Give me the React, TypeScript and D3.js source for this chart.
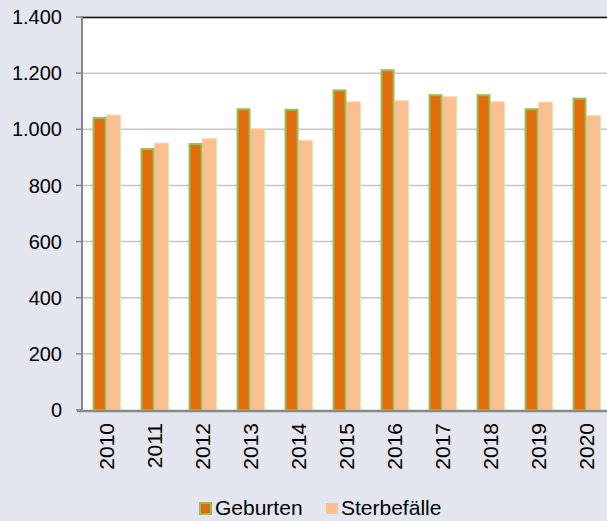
import React, { useRef, useEffect } from "react"
import * as d3 from "d3"

const years = ["2010", "2011", "2012", "2013", "2014", "2015", "2016", "2017", "2018", "2019", "2020"]
const geburten = [1044, 933, 951, 1075, 1073, 1142, 1214, 1125, 1125, 1075, 1113]
const sterbefaelle = [1051, 951, 967, 1002, 961, 1098, 1102, 1116, 1098, 1097, 1049]
const seriesNames = ["Geburten", "Sterbefälle"]
const yTicks = [0, 200, 400, 600, 800, 1000, 1200, 1400]

const W = 607,
  H = 521
const font = "'Liberation Sans', Arial, sans-serif"

function App() {
  const ref = useRef<SVGSVGElement>(null)

  useEffect(() => {
    const svg = d3.select(ref.current)
    svg.selectAll("*").remove()

    const margin = { top: 17, left: 82, bottom: 410 }

    svg.append("rect").attr("width", W).attr("height", H).attr("fill", "#e3e6ee")

    const x0 = d3
      .scaleBand()
      .domain(years)
      .range([margin.left + 0.5, margin.left + 0.5 + years.length * 48])
      .padding(0)
    const x1 = d3.scaleBand().domain(seriesNames).range([10, 38]).padding(0)
    const y = d3.scaleLinear().domain([0, 1400]).range([margin.bottom, margin.top])

    // plot area
    svg
      .append("rect")
      .attr("x", margin.left)
      .attr("y", margin.top)
      .attr("width", W - margin.left)
      .attr("height", margin.bottom - margin.top)
      .attr("fill", "#fff")

    // grid
    svg
      .append("g")
      .selectAll("line")
      .data(yTicks.slice(1))
      .join("line")
      .attr("x1", margin.left)
      .attr("x2", W)
      .attr("y1", d => y(d))
      .attr("y2", d => y(d))
      .attr("stroke", "#c6c6c6")
      .attr("stroke-width", 1.5)

    svg
      .append("line")
      .attr("x1", margin.left)
      .attr("x2", W)
      .attr("y1", margin.top + 0.5)
      .attr("y2", margin.top + 0.5)
      .attr("stroke", "#111")
      .attr("stroke-width", 1.5)

    const data = years.map((yr, i) => ({ year: yr, values: [geburten[i], sterbefaelle[i]] }))

    const groups = svg
      .append("g")
      .selectAll("g")
      .data(data)
      .join("g")
      .attr("transform", d => `translate(${x0(d.year)},0)`)

    // Sterbefälle
    groups
      .append("rect")
      .attr("x", x1("Sterbefälle")!)
      .attr("y", d => y(d.values[1]))
      .attr("width", x1.bandwidth())
      .attr("height", d => y(0) - y(d.values[1]))
      .attr("fill", "#fac090")
      .attr("stroke", "#fcd9bc")
      .attr("stroke-width", 1)

    // Geburten
    groups
      .append("rect")
      .attr("x", x1("Geburten")! + 1)
      .attr("y", d => y(d.values[0]) + 1)
      .attr("width", x1.bandwidth() - 2)
      .attr("height", d => y(0) - y(d.values[0]) - 1)
      .attr("fill", "#e36c0a")
      .attr("stroke", "#9bbb59")
      .attr("stroke-width", 2)

    // axes
    const yAxis = svg.append("g")
    yAxis
      .append("line")
      .attr("x1", margin.left)
      .attr("x2", margin.left)
      .attr("y1", margin.top - 1)
      .attr("y2", margin.bottom + 1)
      .attr("stroke", "#888")
      .attr("stroke-width", 2)
    yAxis
      .selectAll("line.tick")
      .data(yTicks)
      .join("line")
      .attr("class", "tick")
      .attr("x1", 76)
      .attr("x2", margin.left)
      .attr("y1", d => y(d))
      .attr("y2", d => y(d))
      .attr("stroke", "#888")
      .attr("stroke-width", 1.5)
    const fmt = d3.formatLocale({ decimal: ",", thousands: ".", grouping: [3], currency: ["", "€"] }).format(",")
    yAxis
      .selectAll("text")
      .data(yTicks)
      .join("text")
      .attr("x", 62)
      .attr("y", d => y(d))
      .attr("dy", "0.36em")
      .attr("text-anchor", "end")
      .attr("font-family", font)
      .attr("font-size", 20)
      .attr("fill", "#000")
      .text(d => fmt(d))

    svg
      .append("line")
      .attr("x1", margin.left - 5)
      .attr("x2", W)
      .attr("y1", margin.bottom + 1)
      .attr("y2", margin.bottom + 1)
      .attr("stroke", "#888")
      .attr("stroke-width", 2.5)

    svg
      .append("g")
      .selectAll("text")
      .data(years)
      .join("text")
      .attr("transform", d => `translate(${x0(d)! + 24},423) rotate(-90)`)
      .attr("dy", "0.36em")
      .attr("text-anchor", "end")
      .attr("font-family", font)
      .attr("font-size", 21)
      .attr("fill", "#000")
      .text(d => d)

    // legend
    const legend = svg.append("g")
    legend
      .append("rect")
      .attr("x", 200)
      .attr("y", 503)
      .attr("width", 11)
      .attr("height", 11)
      .attr("fill", "#e36c0a")
      .attr("stroke", "#9bbb59")
      .attr("stroke-width", 2)
    legend
      .append("text")
      .attr("x", 215)
      .attr("y", 515)
      .attr("font-family", font)
      .attr("font-size", 21)
      .attr("fill", "#000")
      .text(seriesNames[0])
    legend
      .append("rect")
      .attr("x", 326)
      .attr("y", 503)
      .attr("width", 12)
      .attr("height", 11)
      .attr("fill", "#fac090")
    legend
      .append("text")
      .attr("x", 341)
      .attr("y", 515)
      .attr("font-family", font)
      .attr("font-size", 21)
      .attr("fill", "#000")
      .text(seriesNames[1])
  }, [])

  return (
    <svg
      ref={ref}
      width={W}
      height={H}
      style={{ position: "absolute", left: 0, top: 0, display: "block" }}
    ></svg>
  )
}

export default App
